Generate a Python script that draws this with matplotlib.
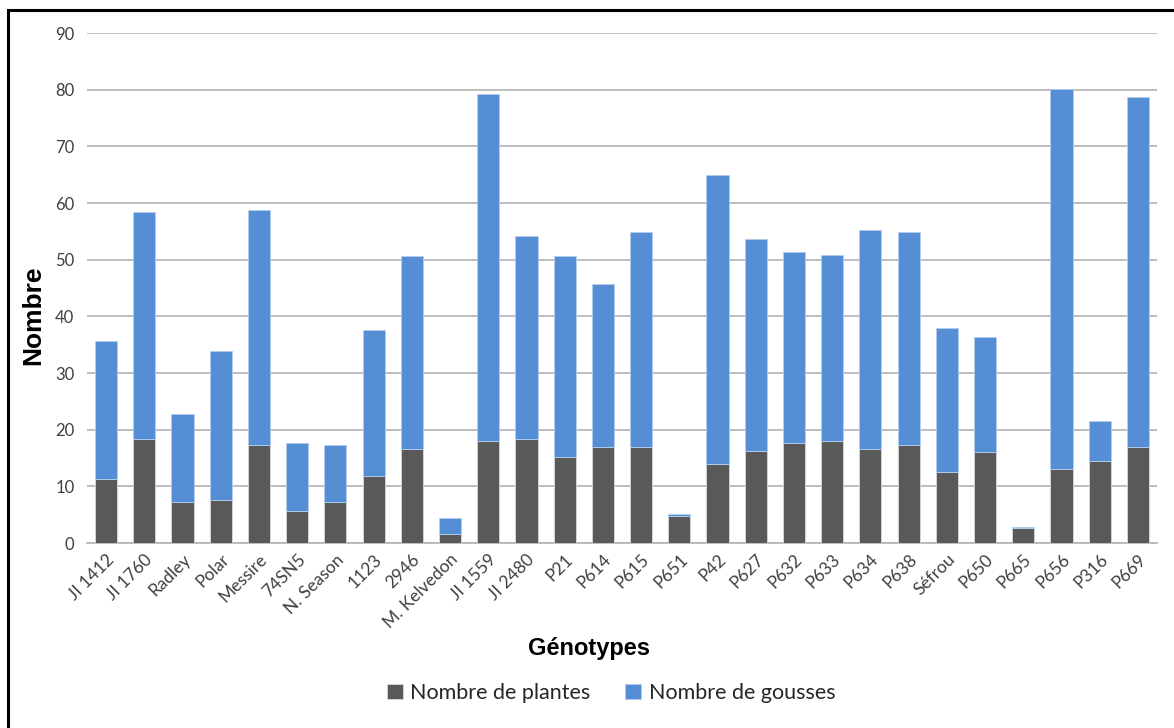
import matplotlib
matplotlib.use("Agg")
import matplotlib.pyplot as plt
from matplotlib.patches import Rectangle
import numpy as np

genotypes = ["JI 1412", "JI 1760", "Radley", "Polar", "Messire", "74SN5", "N. Season",
             "1123", "2946", "M. Kelvedon", "JI 1559", "JI 2480", "P21", "P614", "P615",
             "P651", "P42", "P627", "P632", "P633", "P634", "P638", "Séfrou", "P650",
             "P665", "P656", "P316", "P669"]

# Number of plants per genotype
plantes = [11.3, 18.4, 7.3, 7.6, 17.3, 5.6, 7.3, 11.9, 16.6, 1.6, 18.0, 18.4, 15.2, 16.9,
           16.9, 4.7, 14.0, 16.2, 17.7, 18.0, 16.6, 17.3, 12.6, 16.0, 2.65, 13.0, 14.5, 17.0]

# Total height of each stacked bar (plants + pods)
totaux = [35.7, 58.4, 22.7, 33.9, 58.7, 17.7, 17.3, 37.5, 50.7, 4.4, 79.3, 54.1, 50.7, 45.7,
          54.8, 5.2, 64.9, 53.7, 51.3, 50.9, 55.2, 54.8, 38.0, 36.4, 2.9, 80.1, 21.6, 78.7]

# Number of pods per genotype
gousses = [round(t - p, 2) for t, p in zip(totaux, plantes)]

yticks = [0, 10, 20, 30, 40, 50, 60, 70, 80, 90]

c_plantes = "#595959"
c_gousses = "#558ED5"
grid_c = "#b3b3b3"

W, H = 1174, 728
fig = plt.figure(figsize=(W / 100, H / 100), dpi=100)
ax = fig.add_axes([87 / W, (H - 543) / H, 1070 / W, 510 / H])

x = np.arange(len(genotypes))
w = 0.58
ax.bar(x, plantes, width=w, color=c_plantes, edgecolor="#d9d9d9", linewidth=0.6,
       label="Nombre de plantes", zorder=3)
ax.bar(x, gousses, width=w, bottom=plantes, color=c_gousses, edgecolor="#b4cdee",
       linewidth=0.6, label="Nombre de gousses", zorder=3)

ax.set_xlim(-0.5, len(genotypes) - 0.5)
ax.set_ylim(0, 90)
ax.set_yticks(yticks)
ax.yaxis.grid(True, color=grid_c, linewidth=1.2, zorder=0)
ax.set_axisbelow(True)
for s in ["top", "right", "left"]:
    ax.spines[s].set_visible(False)
ax.spines["bottom"].set_color(grid_c)
ax.spines["bottom"].set_linewidth(1.2)
ax.tick_params(axis="both", length=0)
ax.tick_params(axis="y", pad=9, labelsize=12, labelcolor="#404040")
ax.tick_params(axis="x", pad=6)

ax.set_xticks(x)
ax.set_xticklabels(genotypes, rotation=45, ha="right", va="top", rotation_mode="anchor",
                   fontsize=12.5, color="#404040", family="Lato")
for lab in ax.get_yticklabels():
    lab.set_family("Lato")

fig.text(33 / W, 1 - 315 / H, "Nombre", rotation=90, ha="center", va="center",
         fontsize=19, fontweight="bold", family="Liberation Sans")
fig.text(589 / W, 1 - 648 / H, "Génotypes", ha="center", va="center",
         fontsize=17, fontweight="bold", family="Liberation Sans")

leg = fig.legend(loc="center", bbox_to_anchor=(611 / W, 1 - 693 / H), ncol=2, frameon=False,
                 prop={"family": "Lato", "size": 15.5}, handlelength=0.75, handleheight=0.75,
                 handletextpad=0.35, columnspacing=1.6)
for t in leg.get_texts():
    t.set_color("#262626")

# outer frame
fig.patches.append(Rectangle((8 / W, -0.05), 1.2, (718 / H) + 0.05,
                             transform=fig.transFigure, fill=False, edgecolor="black",
                             linewidth=2.2))

fig.savefig("out.png", dpi=100)
